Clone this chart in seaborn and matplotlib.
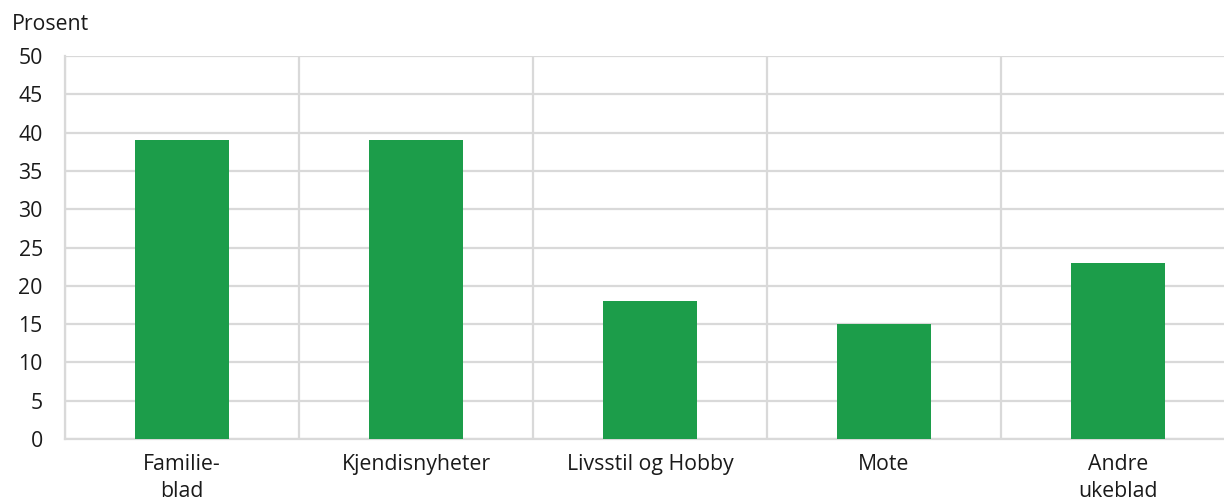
import matplotlib
matplotlib.use("Agg")
import matplotlib.pyplot as plt
import seaborn as sns
import pandas as pd
import numpy as np

categories = ["Familie-\nblad", "Kjendisnyheter", "Livsstil og Hobby", "Mote", "Andre\nukeblad"]
values = [39, 39, 18, 15, 23]
yticks = [0, 5, 10, 15, 20, 25, 30, 35, 40, 45, 50]

sns.set_theme(style="white")
plt.rcParams['font.family'] = ['Open Sans', 'DejaVu Sans']

df = pd.DataFrame({"cat": categories, "val": values})

fig = plt.figure(figsize=(12.24, 4.99), dpi=100)
ax = fig.add_axes([65/1224, 60/499, 1170/1224, 383/499])

sns.barplot(data=df, x="cat", y="val", color="#1c9d4a", width=0.4, ax=ax,
            saturation=1, zorder=3, linewidth=0)

grid_c = "#d9d9d9"
fs = 15.3
ax.set_ylim(0, 50)
ax.set_xlim(-0.5, len(categories) - 0.5)
ax.set_yticks(yticks)
ax.set_yticklabels([str(t) for t in yticks])
ax.set_xticks(np.arange(len(categories) + 1) - 0.5, minor=True)
ax.yaxis.grid(True, color=grid_c, linewidth=1.6, zorder=0)
ax.xaxis.grid(True, which="minor", color=grid_c, linewidth=1.6, zorder=0)
ax.set_axisbelow(True)
for s in ["top", "right"]:
    ax.spines[s].set_visible(False)
for s in ["left", "bottom"]:
    ax.spines[s].set_color(grid_c)
    ax.spines[s].set_linewidth(1.6)
ax.tick_params(axis="both", which="both", length=0, labelsize=fs, colors="#1a1a1a")
ax.tick_params(axis="y", pad=16)
ax.tick_params(axis="x", pad=11)
ax.set_xlabel("")
ax.set_ylabel("")
for lab in ax.get_xticklabels():
    lab.set_linespacing(1.35)

fig.text(12/1224, 1 - 25/499, "Prosent", fontsize=fs, va="center", ha="left", color="#1a1a1a")

fig.savefig("out.png", dpi=100)
